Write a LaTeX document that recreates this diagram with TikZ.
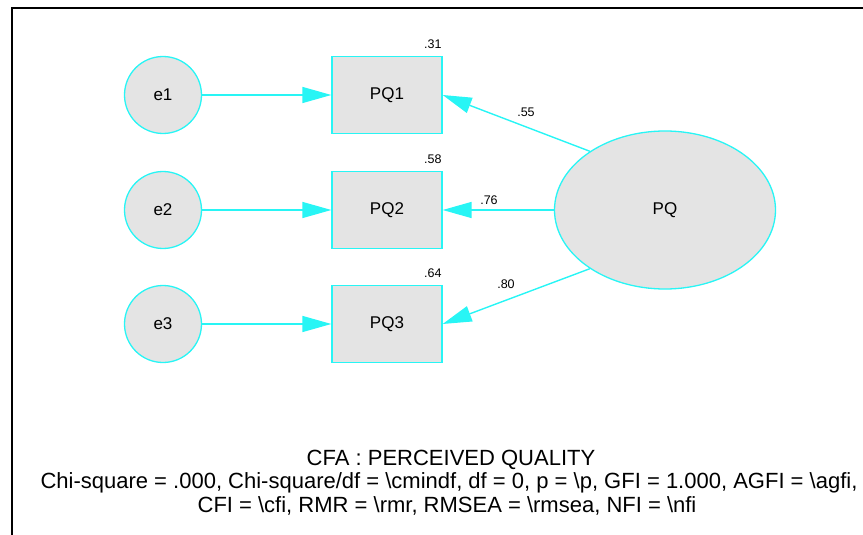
\documentclass[tikz,border=0pt]{standalone}
\usepackage{fontspec}
\setmainfont{Liberation Sans}
\usetikzlibrary{arrows.meta,shapes.geometric}
\definecolor{cy}{RGB}{40,245,245}
\definecolor{fillg}{RGB}{228,228,228}
\begin{document}
\begin{tikzpicture}[x=1pt,y=-1pt,
  conn/.style={draw=cy, line width=1.4pt, -{Triangle[length=29pt,width=16pt]}},
  errnode/.style={circle, draw=cy, fill=fillg, line width=1.3pt, minimum size=77pt, inner sep=0pt, font=\fontsize{17}{20}\selectfont},
  obsnode/.style={rectangle, draw=cy, fill=fillg, line width=1.3pt, minimum width=110pt, minimum height=77pt, inner sep=0pt, font=\fontsize{17}{20}\selectfont},
  latnode/.style={ellipse, draw=cy, fill=fillg, line width=1.3pt, minimum width=221pt, minimum height=158pt, inner sep=0pt, font=\fontsize{17}{20}\selectfont},
  num/.style={font=\fontsize{12.5}{15}\selectfont, inner sep=0pt},
  caption/.style={font=\fontsize{22}{26}\selectfont, inner sep=0pt, anchor=base}]
\useasboundingbox (0,0) rectangle (863,535);
\draw[line width=2pt] (12,535) -- (12,8) -- (863,8);

\node[errnode] (e1) at (163,95) {e1};
\node[errnode] (e2) at (163,210) {e2};
\node[errnode] (e3) at (163,324) {e3};
\node[obsnode] (PQ1) at (387,95) {PQ1};
\node[obsnode] (PQ2) at (387,210) {PQ2};
\node[obsnode] (PQ3) at (387,324) {PQ3};
\node[latnode] (PQ) at (665,210) {PQ};

\draw[conn] (e1) -- (PQ1);
\draw[conn] (e2) -- (PQ2);
\draw[conn] (e3) -- (PQ3);
\draw[conn] (PQ.142) -- (PQ1.east);
\draw[conn] (PQ.west) -- (PQ2.east);
\draw[conn] (PQ.218) -- (PQ3.east);

\node[num, anchor=base east] (r1) at ([yshift=7pt,xshift=-1pt]PQ1.north east) {.31};
\node[num, anchor=base east] (r2) at ([yshift=7pt,xshift=-1pt]PQ2.north east) {.58};
\node[num, anchor=base east] (r3) at ([yshift=7pt,xshift=-1pt]PQ3.north east) {.64};

\node[num] (l1) at (526,112) {.55};
\node[num] (l2) at (489,200) {.76};
\node[num] (l3) at (506,284) {.80};

\node[caption] (cap1) at (451,465) {CFA : PERCEIVED QUALITY};
\node[caption] (cap2) at (449,488) {Chi-square = .000, Chi-square/df = \textbackslash cmindf, df = 0, p = \textbackslash p, GFI = 1.000, AGFI = \textbackslash agfi,};
\node[caption] (cap3) at (447,512) {CFI = \textbackslash cfi, RMR = \textbackslash rmr, RMSEA = \textbackslash rmsea, NFI = \textbackslash nfi};
\end{tikzpicture}
\end{document}
